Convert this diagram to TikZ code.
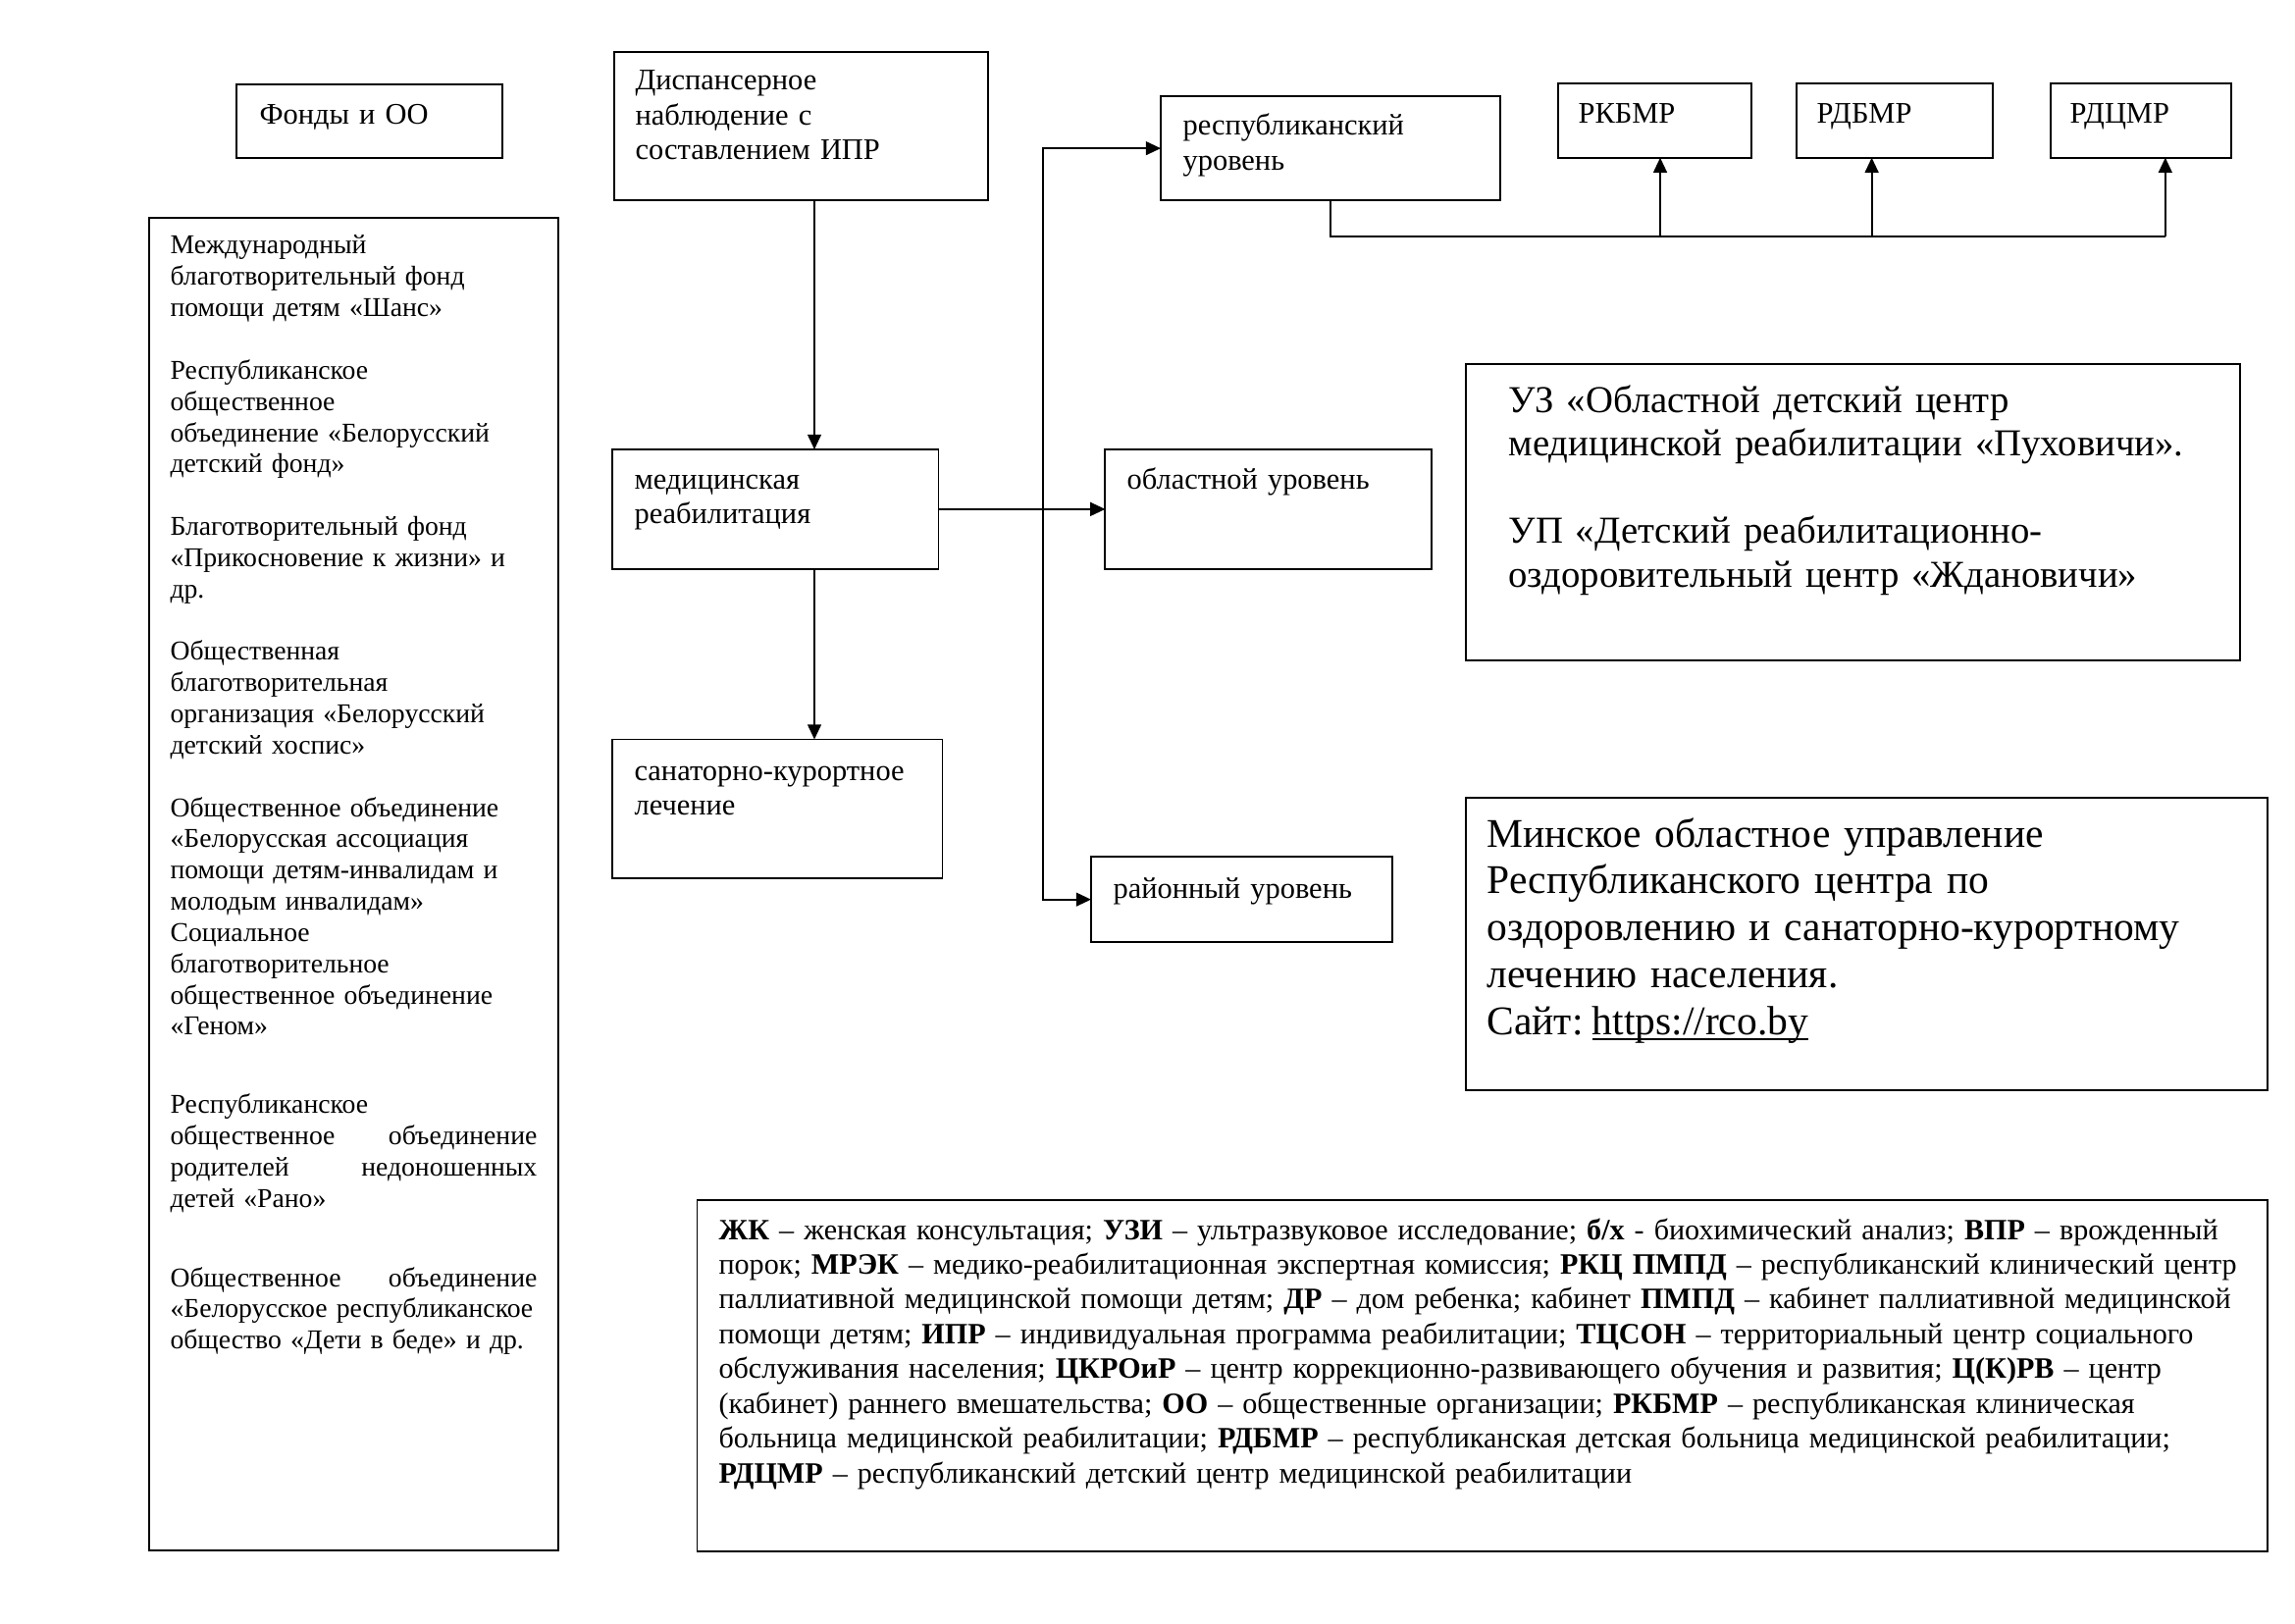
\documentclass[tikz,border=0pt]{standalone}
\usepackage{fontspec}
\setmainfont{Liberation Serif}
\usetikzlibrary{arrows.meta,fit}
\newcommand{\myul}[1]{{\setbox0\hbox{#1}\rlap{\rule[-2pt]{\wd0}{0.7pt}}\box0}}
\tikzset{
  box/.style={draw, line width=0.7pt, inner sep=0pt, outer sep=0pt, rectangle},
  arr/.style={-{Triangle[length=5.5pt,width=5pt]}, line width=0.7pt},
  darr/.style={{Triangle[length=5.5pt,width=5pt]}-{Triangle[length=5.5pt,width=5pt]}, line width=0.7pt},
  conn/.style={line width=0.7pt},
  tx/.style={inner sep=0pt, anchor=base west, align=left, text width=#1},
  f10/.style={font=\fontsize{10pt}{11.5pt}\selectfont},
  f11/.style={font=\fontsize{11pt}{12.85pt}\selectfont},
  fleg/.style={font=\fontsize{10.88pt}{12.8pt}\selectfont},
  f14/.style={font=\fontsize{14pt}{16.1pt}\selectfont},
  f15/.style={font=\fontsize{15pt}{17.3pt}\selectfont}
}
\begin{document}
\begin{tikzpicture}[x=0.012698cm, y=-0.012698cm]
\useasboundingbox (0,0) rectangle (2339,1654);
\fill[white] (0,0) rectangle (2339,1654);

% boxes
\node[box, fit={(241,86) (512,161)}] (fonds) {};
\node[box, fit={(151.7,222) (569,1580)}] (funds) {};
\node[box, fit={(626,52.7) (1007,204.3)}] (disp) {};
\node[box, fit={(624,458) (956.5,579.8)}] (med) {};
\node[box, fit={(624,753.5) (960.5,895)}] (san) {};
\node[box, fit={(1183,98.3) (1529,204)}] (resp) {};
\node[box, fit={(1126.4,458) (1458.8,579.8)}] (obl) {};
\node[box, fit={(1112,873) (1419,960.3)}] (raion) {};
\node[box, fit={(1588,85) (1785,160.7)}] (rkbmr) {};
\node[box, fit={(1831,85) (2031,160.7)}] (rdbmr) {};
\node[box, fit={(2089.5,85) (2273.6,160.7)}] (rdcmr) {};
\node[box, fit={(1494,371) (2283.4,672.7)}] (uz) {};
\node[box, fit={(1494,812.7) (2311,1110.7)}] (minsk) {};
\node[box, fit={(710.5,1222.7) (2311,1581)}] (legend) {};

% texts
\node[tx=3cm, f11] (tfonds) at (264,127) {Фонды и ОО};
\node[tx=4.6cm, f11] (tdisp) at (647,91.5) {Диспансерное\\наблюдение с\\составлением ИПР};
\node[tx=4cm, f11] (tmed) at (646,498) {медицинская\\реабилитация};
\node[tx=4.2cm, f11] (tsan) at (646,795) {санаторно-курортное\\лечение};
\node[tx=4.2cm, f11] (tresp) at (1205,138) {республиканский\\уровень};
\node[tx=4cm, f11] (tobl) at (1148,498) {областной уровень};
\node[tx=3.8cm, f11] (traion) at (1134,915) {районный уровень};
\node[tx=2.3cm, f11] (trk) at (1608,126) {РКБМР};
\node[tx=2.3cm, f11] (trd) at (1851,126) {РДБМР};
\node[tx=2.3cm, f11] (trdc) at (2109,126) {РДЦМР};

\node[tx=4.745cm, f10] (tfunds) at (173,259) {Международный\\
благотворительный фонд\\
помощи детям «Шанс»\\[11.5pt]
Республиканское\\
общественное\\
объединение «Белорусский\\
детский фонд»\\[11.5pt]
Благотворительный фонд\\
«Прикосновение к жизни» и\\
др.\\[11.5pt]
Общественная\\
благотворительная\\
организация «Белорусский\\
детский хоспис»\\[11.5pt]
Общественное объединение\\
«Белорусская ассоциация\\
помощи детям-инвалидам и\\
молодым инвалидам»\\
Социальное\\
благотворительное\\
общественное объединение\\
«Геном»\\[17.3pt]
Республиканское\\
общественное\hfill объединение\\
родителей\hfill недоношенных\\
детей «Рано»\\[17.7pt]
Общественное\hfill объединение\\
«Белорусское республиканское\\
общество «Дети в беде» и др.};

\node[tx=10.5cm, f14] (tuz) at (1537,420) {УЗ «Областной детский центр\\
медицинской реабилитации «Пуховичи».\\[16.1pt]
УП «Детский реабилитационно-\\
оздоровительный центр «Ждановичи»};

\node[tx=10.3cm, f15] (tminsk) at (1515,863) {Минское областное управление\\
Республиканского центра по\\
оздоровлению и санаторно-курортному\\
лечению населения.\\
Сайт:\hspace{0.22em}\myul{https://rco.by}};

\node[tx=20cm, fleg] (tleg) at (732,1263) {\textbf{ЖК} – женская консультация; \textbf{УЗИ} – ультразвуковое исследование; \textbf{б/х} - биохимический анализ; \textbf{ВПР} – врожденный\\
порок; \textbf{МРЭК} – медико-реабилитационная экспертная комиссия; \textbf{РКЦ ПМПД} – республиканский клинический центр\\
паллиативной медицинской помощи детям; \textbf{ДР} – дом ребенка; кабинет \textbf{ПМПД} – кабинет паллиативной медицинской\\
помощи детям; \textbf{ИПР} – индивидуальная программа реабилитации; \textbf{ТЦСОН} – территориальный центр социального\\
обслуживания населения; \textbf{ЦКРОиР} – центр коррекционно-развивающего обучения и развития; \textbf{Ц(К)РВ} – центр\\
(кабинет) раннего вмешательства; \textbf{ОО} – общественные организации; \textbf{РКБМР} – республиканская клиническая\\
больница медицинской реабилитации; \textbf{РДБМР} – республиканская детская больница медицинской реабилитации;\\
\textbf{РДЦМР} – республиканский детский центр медицинской реабилитации};

% connectors
\coordinate (cA) at (830,0);
\coordinate (sp) at (1063,0);
\coordinate (b1) at (1692,241);
\coordinate (b2) at (1907.6,241);
\coordinate (b3) at (2206.8,241);

\draw[arr] (cA |- disp.south) -- (cA |- med.north);
\draw[arr] (cA |- med.south) -- (cA |- san.north);
\draw[arr] (med.east) -- (obl.west);
\draw[darr] (resp.west) -- (sp |- resp.west) -- (sp |- raion.west) -- (raion.west);
\draw[conn] (resp.south) |- (b3);
\draw[arr] (b1) -- (b1 |- rkbmr.south);
\draw[arr] (b2) -- (b2 |- rdbmr.south);
\draw[arr] (b3) -- (b3 |- rdcmr.south);
\end{tikzpicture}
\end{document}
